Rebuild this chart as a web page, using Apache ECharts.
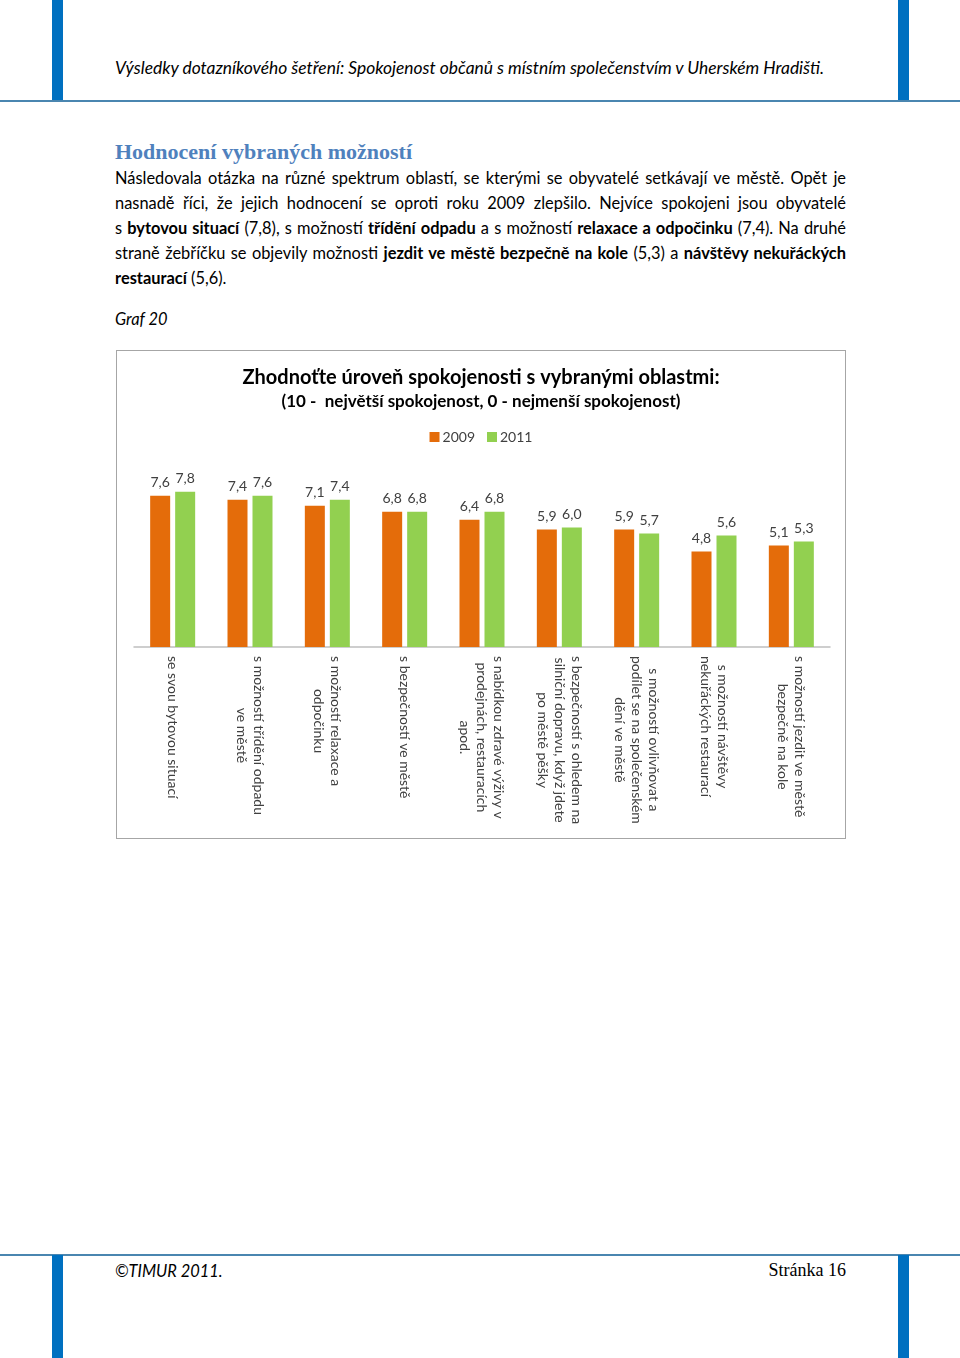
<!DOCTYPE html>
<html>
<head>
<meta charset="utf-8">
<script src="https://cdn.jsdelivr.net/npm/echarts@6/dist/echarts.min.js"></script>
<style>
  html, body { margin: 0; padding: 0; background: #fff; }
  #page { position: relative; width: 960px; height: 1358px; overflow: hidden; font-family: Lato, "Noto Sans", sans-serif; color: #000; }
  .abs { position: absolute; white-space: nowrap; }
  .bar { position: absolute; background: #0070C0; width: 11px; }
  .hline { position: absolute; left: 0; width: 960px; height: 2px; background: #4a86b0; }
  .pl { position: absolute; left: 115px; width: 731px; height: 25px; line-height: 25px; font-size: 16.4px; white-space: nowrap; text-align: justify; text-align-last: justify; }
  .pl.last { text-align-last: left; }
  #chart { position: absolute; left: 116px; top: 350px; width: 728px; height: 487px; border: 1px solid #a6a6a6; }
</style>
</head>
<body>
<div id="page">
  <div class="bar" style="left:52px; top:0; height:101px;"></div>
  <div class="bar" style="left:898px; top:0; height:101px;"></div>
  <div class="hline" style="top:100px;"></div>
  <div class="abs" style="left:115px; top:57px; font-size:17.4px; font-style:italic; line-height:22px;">Výsledky dotazníkového šetření: Spokojenost občanů s místním společenstvím v Uherském Hradišti.</div>

  <div class="abs" style="left:115px; top:139px; font-family:'Liberation Serif','DejaVu Serif',serif; font-weight:bold; font-size:22px; line-height:26px; color:#4f81bd;">Hodnocení vybraných možností</div>

  <div class="pl" style="top:165px;">Následovala otázka na různé spektrum oblastí, se kterými se obyvatelé setkávají ve městě. Opět je</div>
  <div class="pl" style="top:190px;">nasnadě říci, že jejich hodnocení se oproti roku 2009 zlepšilo. Nejvíce spokojeni jsou obyvatelé</div>
  <div class="pl" style="top:215px;">s <b>bytovou situací</b> (7,8), s možností <b>třídění odpadu</b> a s možností <b>relaxace a odpočinku</b> (7,4). Na druhé</div>
  <div class="pl" style="top:240px;">straně žebříčku se objevily možnosti <b>jezdit ve městě bezpečně na kole</b> (5,3) a <b>návštěvy nekuřáckých</b></div>
  <div class="pl last" style="top:265px;"><b>restaurací</b> (5,6).</div>

  <div class="abs" style="left:115px; top:308px; font-size:16.4px; font-style:italic; line-height:22px;">Graf 20</div>

  <div id="chart"></div>

  <div class="hline" style="top:1254px;"></div>
  <div class="bar" style="left:52px; top:1255px; height:103px;"></div>
  <div class="bar" style="left:898px; top:1255px; height:103px;"></div>
  <div class="abs" style="left:115px; top:1260px; font-size:16.4px; font-style:italic; line-height:22px;">©TIMUR 2011.</div>
  <div class="abs" style="right:114px; top:1259px; font-family:'Liberation Serif','DejaVu Serif',serif; font-size:18px; line-height:22px;">Stránka 16</div>
</div>
<script>
const categories = [
  "se svou bytovou situací",
  "s možností třídění odpadu\nve městě",
  "s možností relaxace a\nodpočinku",
  "s bezpečností ve městě",
  "s nabídkou zdravé výživy v\nprodejnách, restauracích\napod.",
  "s bezpečností s ohledem na\nsilniční dopravu, když jdete\npo městě pěšky",
  "s možností ovlivňovat a\npodílet se na společenském\ndění ve městě",
  "s možností návštěvy\nnekuřáckých restaurací",
  "s možností jezdit ve městě\nbezpečně na kole"
];
const values2009 = [7.6, 7.4, 7.1, 6.8, 6.4, 5.9, 5.9, 4.8, 5.1];
const values2011 = [7.8, 7.6, 7.4, 6.8, 6.8, 6.0, 5.7, 5.6, 5.3];
const seriesNames = ["2009", "2011"];

const FONT = 'Lato, "Noto Sans", sans-serif';
const chart = echarts.init(document.getElementById('chart'), null, { renderer: 'canvas' });
const valLabel = {
  show: true, position: 'top', distance: 6,
  fontFamily: FONT, fontSize: 14, color: '#404040',
  formatter: p => p.value.toFixed(1).replace('.', ',')
};
chart.setOption({
  animation: false,
  title: [
    { text: 'Zhodnoťte úroveň spokojenosti s vybranými oblastmi:', left: 'center', top: 12,
      textStyle: { fontFamily: FONT, fontSize: 20, fontWeight: 'bold', color: '#000' } },
    { text: '(10 -  největší spokojenost, 0 - nejmenší spokojenost)', left: 'center', top: 37,
      textStyle: { fontFamily: FONT, fontSize: 17, fontWeight: 'bold', color: '#000' } }
  ],
  legend: {
    top: 74, left: 'center', icon: 'rect', itemWidth: 10, itemHeight: 10, itemGap: 12,
    textStyle: { fontFamily: FONT, fontSize: 14, color: '#404040', padding: [0, 0, 0, -2] },
    data: seriesNames
  },
  grid: { left: 17, right: 15, top: 97, bottom: 191, containLabel: false },
  xAxis: {
    type: 'category', data: categories,
    axisLine: { lineStyle: { color: '#bfbfbf', width: 1.5 } },
    axisTick: { show: false },
    axisLabel: {
      interval: 0, rotate: -90, margin: 9,
      formatter: v => v.split('\n').map(l => '{a|' + l + '}').join('\n'),
      rich: { a: { align: 'center', fontFamily: FONT, fontSize: 14, lineHeight: 17, color: '#404040' } }
    }
  },
  yAxis: { type: 'value', min: 0, max: 10, show: false, splitLine: { show: false } },
  series: [
    { name: seriesNames[0], type: 'bar', data: values2009, barWidth: 20, barGap: '25%',
      itemStyle: { color: '#E46C0A' }, label: valLabel },
    { name: seriesNames[1], type: 'bar', data: values2011, barWidth: 20, barGap: '25%',
      itemStyle: { color: '#92D050' }, label: valLabel }
  ]
});
</script>
</body>
</html>
